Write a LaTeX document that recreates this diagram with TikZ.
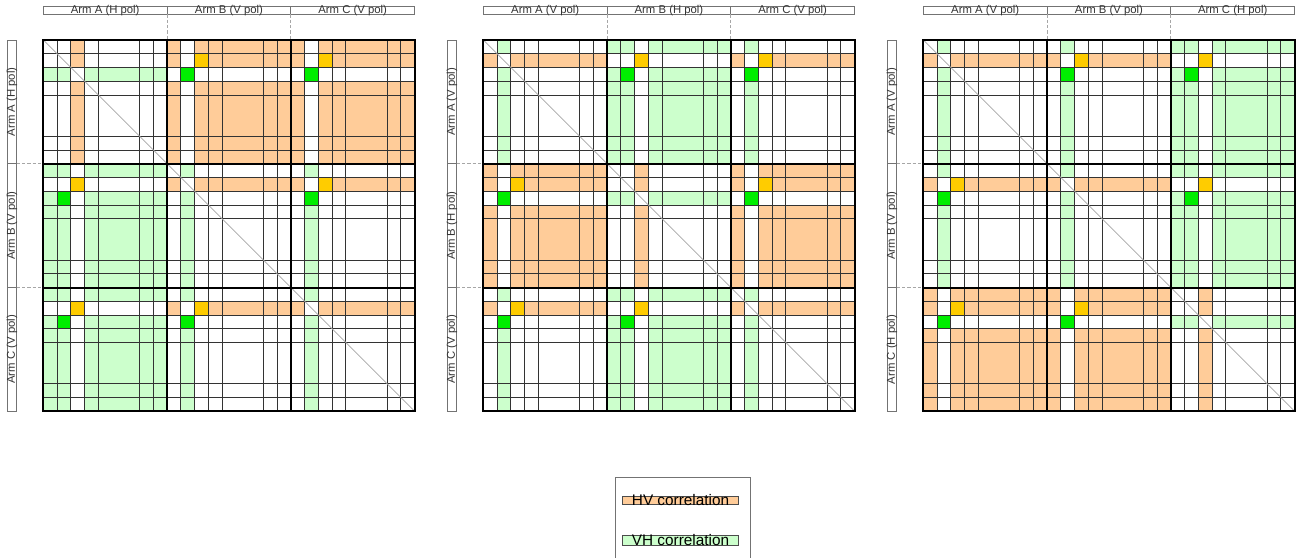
\documentclass[tikz,border=0pt]{standalone}
\usepackage{fontspec}
\setmainfont{Liberation Sans}
\usetikzlibrary{positioning}

\definecolor{hvorange}{RGB}{255,204,153}
\definecolor{vhgreen}{RGB}{204,255,204}
\definecolor{spotgold}{RGB}{255,204,0}
\definecolor{spotgreen}{RGB}{0,238,0}

\tikzset{
  hvcell/.style={fill=hvorange},
  vhcell/.style={fill=vhgreen},
  goldcell/.style={fill=spotgold},
  greencell/.style={fill=spotgreen},
  gridline/.style={draw=black!80, line width=0.75pt},
  blockline/.style={draw=black, line width=1.5pt, line cap=rect},
  diagline/.style={draw=black!35, line width=0.5pt},
  hdrbox/.style={draw=black!55, line width=0.6pt},
  hdrtext/.style={font=\fontsize{8.5}{9}\selectfont, text=black!80, inner sep=0pt},
  guide/.style={draw=black!35, line width=0.6pt, dash pattern=on 2.5pt off 1.5pt},
  keybox/.style={draw=black!70, line width=0.6pt, minimum width=86.7pt, inner sep=0pt},
  keytext/.style={font=\fontsize{11.5}{12}\selectfont, inner sep=0pt},
}

% block fills, in cell units, origin at the top-left corner of the block
\newcommand{\spots}{%
  \fill[goldcell] (2,1) rectangle (3,2);
  \fill[greencell] (1,2) rectangle (2,3);}
\newcommand{\blkHHd}[2]{\begin{scope}[shift={(9*#1,9*#2)}]
  \fill[hvcell] (2,0) rectangle (3,2) (2,3) rectangle (3,9);
  \fill[vhcell] (0,2) rectangle (2,3) (3,2) rectangle (9,3);
  \end{scope}}
\newcommand{\blkVVd}[2]{\begin{scope}[shift={(9*#1,9*#2)}]
  \fill[vhcell] (1,0) rectangle (2,1) (1,2) rectangle (2,9);
  \fill[hvcell] (0,1) rectangle (1,2) (2,1) rectangle (9,2);
  \end{scope}}
\newcommand{\blkHH}[2]{\blkHHd{#1}{#2}\begin{scope}[shift={(9*#1,9*#2)}]\spots\end{scope}}
\newcommand{\blkVV}[2]{\blkVVd{#1}{#2}\begin{scope}[shift={(9*#1,9*#2)}]\spots\end{scope}}
\newcommand{\blkHV}[2]{\begin{scope}[shift={(9*#1,9*#2)}]
  \fill[hvcell] (0,0) rectangle (1,2) (2,0) rectangle (9,2) (0,3) rectangle (1,9) (2,3) rectangle (9,9);
  \spots
  \end{scope}}
\newcommand{\blkVH}[2]{\begin{scope}[shift={(9*#1,9*#2)}]
  \fill[vhcell] (0,0) rectangle (2,1) (3,0) rectangle (9,1) (0,2) rectangle (2,9) (3,2) rectangle (9,9);
  \spots
  \end{scope}}

% one correlation matrix: #1 name, #2 x offset (px), #3-#5 polarisation of arms A, B, C
\newcommand{\panel}[5]{%
  \begin{scope}[shift={(#2,40)}]
    \begin{scope}[x=10.3125pt, y=-10.3125pt]
      \foreach \rowpol [count=\rowi from 0] in {#3,#4,#5}
        \foreach \colpol [count=\coli from 0] in {#3,#4,#5} {
          \ifnum\rowi=\coli\relax \csname blk\rowpol\rowpol d\endcsname{\coli}{\rowi}%
          \else \csname blk\rowpol\colpol\endcsname{\coli}{\rowi}\fi
        }
      \foreach \k in {0,9,18}
        \foreach \b in {1,2,3,4,7,8} {
          \draw[gridline] (\k+\b,0) -- (\k+\b,27);
          \draw[gridline] (0,\k+\b) -- (27,\k+\b);
        }
      \draw[diagline] (0,0) -- (27,27);
      \foreach \k in {0,9,18,27} {
        \draw[blockline] (\k,0) -- (\k,27);
        \draw[blockline] (0,\k) -- (27,\k);
      }
    \end{scope}
    % arm headers
    \draw[hdrbox] (0,-33.3) rectangle (371.25,-25.7);
    \draw[hdrbox] (-36,0) rectangle (-26.6,371.25);
    \foreach \arm/\pol [count=\n from 0] in {A/#3,B/#4,C/#5} {
      \node[hdrtext] (#1-top\arm) at ({123.75*\n+61.9},-29.5) {Arm \arm\ (\pol\ pol)};
      \node[hdrtext, rotate=90] (#1-left\arm) at (-31.3,{123.75*\n+61.9}) {Arm \arm\ (\pol\ pol)};
    }
    \foreach \k in {1,2} {
      \coordinate (#1-tu\k) at (123.75*\k,-33.3);
      \coordinate (#1-td\k) at (123.75*\k,-25.7);
      \coordinate (#1-tm\k) at (123.75*\k,0);
      \coordinate (#1-ll\k) at (-36,123.75*\k);
      \coordinate (#1-lr\k) at (-26.6,123.75*\k);
      \coordinate (#1-lm\k) at (0,123.75*\k);
      \draw[hdrbox] (#1-tu\k) -- (#1-td\k);
      \draw[guide] (#1-td\k) -- (#1-tm\k);
      \draw[hdrbox] (#1-ll\k) -- (#1-lr\k);
      \draw[guide] (#1-lr\k) -- (#1-lm\k);
    }
  \end{scope}}

\begin{document}
\begin{tikzpicture}[x=0.75pt, y=-0.75pt]
  \useasboundingbox (0,0) rectangle (1306,557);
  \clip (0,0) rectangle (1306,557);

  % ── three matrices ──────────────────────────────
  \panel{mA}{43.3}{H}{V}{V}
  \panel{mB}{483.3}{V}{H}{V}
  \panel{mC}{923.3}{V}{V}{H}

  % ── legend ──────────────────────────────────────
  \draw[hdrbox] (615,575) -- (615,477.3) -- (750,477.3) -- (750,575);
  \node[keybox, fill=hvorange, minimum height=5.7pt] (keyHV) at (680.5,500.5) {};
  \node[keytext] (keyHV-text) at (keyHV.center) {HV correlation};
  \node[keybox, fill=vhgreen, minimum height=7.7pt] (keyVH) at (680.5,540.2) {};
  \node[keytext] (keyVH-text) at (keyVH.center) {VH correlation};
\end{tikzpicture}
\end{document}
